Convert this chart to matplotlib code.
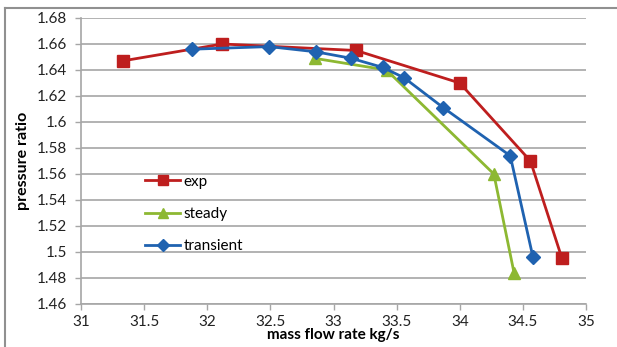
import matplotlib
matplotlib.use("Agg")
import matplotlib.pyplot as plt
from matplotlib.lines import Line2D

plt.rcParams['font.family'] = ['Lato', 'DejaVu Sans']

# exp data
exp_x = [31.33, 32.12, 33.18, 34.00, 34.56, 34.81]
exp_y = [1.647, 1.660, 1.655, 1.630, 1.570, 1.495]

# steady data
steady_x = [32.85, 33.42, 34.27, 34.43]
steady_y = [1.649, 1.640, 1.560, 1.484]

# transient data
trans_x = [31.88, 32.49, 32.86, 33.14, 33.39, 33.56, 33.87, 34.40, 34.58]
trans_y = [1.656, 1.658, 1.654, 1.649, 1.642, 1.634, 1.611, 1.574, 1.496]

xticks = [31, 31.5, 32, 32.5, 33, 33.5, 34, 34.5, 35]
yticks = [1.46, 1.48, 1.5, 1.52, 1.54, 1.56, 1.58, 1.6, 1.62, 1.64, 1.66, 1.68]

red = "#BE1E1E"
green = "#8DB832"
blue = "#1F62B0"

fig = plt.figure(figsize=(6.17, 3.47), dpi=100)
ax = fig.add_axes([81 / 617, 43 / 347, 505 / 617, 286 / 347])

ax.plot(exp_x, exp_y, color=red, lw=2, marker="s", ms=9, label="exp", zorder=3)
ax.plot(steady_x, steady_y, color=green, lw=2, marker="^", ms=8, label="steady", zorder=4)
ax.plot(trans_x, trans_y, color=blue, lw=2, marker="D", ms=7, label="transient", zorder=5)

ax.set_xlim(31, 35)
ax.set_ylim(1.46, 1.68)
ax.set_xticks(xticks)
ax.set_xticklabels([f"{v:g}" for v in xticks])
ax.set_yticks(yticks)
ax.set_yticklabels([f"{v:g}" for v in yticks])

ax.grid(True, axis="y", color="#A6A6A6", lw=1.2)
ax.set_axisbelow(True)
for s in ["top", "right"]:
    ax.spines[s].set_visible(False)
for s in ["left", "bottom"]:
    ax.spines[s].set_color("#A6A6A6")
    ax.spines[s].set_linewidth(1.2)
ax.tick_params(axis="both", colors="#A6A6A6", labelcolor="#222222",
               labelsize=11, length=4, width=1)
ax.tick_params(axis="y", pad=6)
ax.tick_params(axis="x", pad=4)

ax.set_xlabel("mass flow rate kg/s", fontsize=11, fontweight="bold", labelpad=-1)
ax.set_ylabel("pressure ratio", fontsize=11.5, fontweight="bold", labelpad=5)

ax.legend(loc="upper left", bbox_to_anchor=(0.1, 0.5), frameon=False,
          fontsize=11, labelspacing=1.2, handlelength=2.3, handletextpad=0.2,
          markerscale=0.85)

# outer frame of the picture
fig.add_artist(Line2D([5 / 617, 5 / 617], [0, 1 - 8 / 347], color="#909090", lw=1.5,
                      transform=fig.transFigure))
fig.add_artist(Line2D([5 / 617, 1], [1 - 8 / 347, 1 - 8 / 347], color="#909090", lw=1.5,
                      transform=fig.transFigure))

fig.savefig("out.png", dpi=100)
